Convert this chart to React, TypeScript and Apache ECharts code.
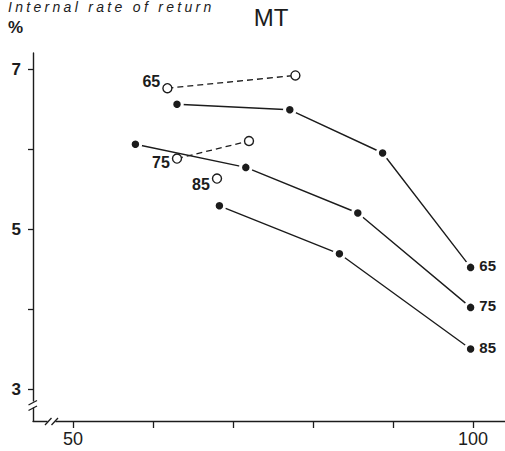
import React, { useEffect, useRef } from "react";
import * as echarts from "echarts";

// Axis ticks and labelled values
const xTicks = [50, 60, 70, 80, 90, 100];
const xTickLabels = [50, 100];
const yTicks = [3, 4, 5, 6, 7];
const yTickLabels = [3, 5, 7];

const seriesNames = ["65", "75", "85"];

// Filled markers joined by solid lines: [x, internal rate of return %]
const solid65 = [[63.0, 6.56], [77.1, 6.49], [88.7, 5.95], [99.7, 4.52]];
const solid75 = [[57.8, 6.06], [71.6, 5.77], [85.6, 5.2], [99.7, 4.02]];
const solid85 = [[68.3, 5.29], [83.3, 4.69], [99.7, 3.5]];

// Open markers joined by dashed lines
const open65 = [[61.8, 6.76], [77.8, 6.92]];
const open75 = [[63.0, 5.88], [72.0, 6.1]];
const open85 = [[68.0, 5.63]];

const titleText = "Internal rate of return";
const unitText = "%";
const panelText = "MT";

const INK = "#1c1c1c";
const FONT = "'Liberation Sans', Arial, Helvetica, sans-serif";

function solidSeries(name: string, data: number[][]) {
  return {
    name,
    type: "line",
    z: 3,
    data: data.map((v, i) =>
      i === data.length - 1
        ? {
            value: v,
            label: {
              show: true,
              position: "right",
              distance: 2,
              offset: [0, -2],
              formatter: "{a}",
              color: INK,
              fontFamily: FONT,
              fontWeight: "bold",
              fontSize: 15,
            },
          }
        : v
    ),
    symbol: "circle",
    symbolSize: 10.5,
    itemStyle: { color: INK, borderColor: "#ffffff", borderWidth: 3 },
    lineStyle: { color: INK, width: 1.4 },
    emphasis: { disabled: true },
  };
}

function openSeries(name: string, data: number[][], offset: number[]) {
  return {
    name,
    type: "line",
    z: 4,
    data: data.map((v, i) =>
      i === 0
        ? {
            value: v,
            label: {
              show: true,
              position: "left",
              distance: 2,
              offset,
              formatter: "{a}",
              color: INK,
              fontFamily: FONT,
              fontWeight: "bold",
              fontSize: 16,
            },
          }
        : v
    ),
    symbol: "circle",
    symbolSize: 9,
    itemStyle: { color: "#ffffff", borderColor: INK, borderWidth: 1.4 },
    lineStyle: { color: INK, width: 1.3, type: [6, 4] },
    emphasis: { disabled: true },
  };
}

export default function App() {
  const ref = useRef<HTMLDivElement>(null);

  useEffect(() => {
    if (!ref.current) return;
    const chart = echarts.init(ref.current, null, { renderer: "svg" });

    const axisLine = { show: true, onZero: false, lineStyle: { color: INK, width: 1.4 } };

    chart.setOption({
      animation: false,
      backgroundColor: "#ffffff",
      grid: { left: 33, top: 53, width: 472, height: 368, containLabel: false },
      xAxis: {
        type: "value",
        min: 45,
        max: 104,
        axisLine,
        axisTick: { show: true, length: 7, customValues: xTicks, lineStyle: { color: INK, width: 1.3 } },
        axisLabel: {
          customValues: xTickLabels,
          color: INK,
          fontFamily: FONT,
          fontSize: 18,
          margin: 9,
        },
        splitLine: { show: false },
      },
      yAxis: {
        type: "value",
        min: 2.6,
        max: 7.2,
        axisLine,
        axisTick: { show: true, length: 5, customValues: yTicks, lineStyle: { color: INK, width: 1.3 } },
        axisLabel: {
          customValues: yTickLabels,
          color: INK,
          fontFamily: FONT,
          fontWeight: "bold",
          fontSize: 17,
          margin: 12,
        },
        splitLine: { show: false },
      },
      series: [
        solidSeries(seriesNames[0], solid65),
        solidSeries(seriesNames[1], solid75),
        solidSeries(seriesNames[2], solid85),
        openSeries(seriesNames[0], open65, [0, -7]),
        openSeries(seriesNames[1], open75, [0, 4]),
        openSeries(seriesNames[2], open85, [0, 6]),
      ],
      graphic: [
        {
          type: "text",
          left: 8,
          top: 0,
          z: 10,
          style: {
            text: titleText,
            fill: INK,
            font: `italic 14px ${FONT}`,
          },
        },
        {
          type: "text",
          x: 15.5,
          y: 27,
          z: 10,
          style: {
            text: unitText,
            fill: INK,
            font: `bold 17px ${FONT}`,
            align: "center",
            verticalAlign: "middle",
          },
        },
        {
          type: "text",
          x: 271,
          y: 17,
          z: 10,
          style: {
            text: panelText,
            fill: INK,
            font: `24px ${FONT}`,
            align: "center",
            verticalAlign: "middle",
          },
        },
        // axis break on the vertical axis
        { type: "rect", z: 20, shape: { x: 29, y: 401.5, width: 9, height: 6 }, style: { fill: "#ffffff" } },
        { type: "line", z: 21, shape: { x1: 28.5, y1: 405, x2: 37, y2: 400.5 }, style: { stroke: INK, lineWidth: 1.3 } },
        { type: "line", z: 21, shape: { x1: 28.5, y1: 410.5, x2: 37, y2: 406 }, style: { stroke: INK, lineWidth: 1.3 } },
        // axis break on the horizontal axis
        { type: "rect", z: 20, shape: { x: 47.5, y: 418, width: 8, height: 7 }, style: { fill: "#ffffff" } },
        { type: "line", z: 21, shape: { x1: 45, y1: 425, x2: 51.5, y2: 418 }, style: { stroke: INK, lineWidth: 1.3 } },
        { type: "line", z: 21, shape: { x1: 51.5, y1: 425, x2: 58, y2: 418 }, style: { stroke: INK, lineWidth: 1.3 } },
      ],
    });

    // widen the tracking of the italic heading
    const spaceTitle = () => {
      const nodes = ref.current?.querySelectorAll("text") ?? [];
      nodes.forEach((n) => {
        if (n.textContent === titleText) n.setAttribute("letter-spacing", "3.3");
      });
    };
    chart.on("rendered", spaceTitle);
    spaceTitle();
    const t = window.setTimeout(spaceTitle, 50);

    return () => {
      window.clearTimeout(t);
      chart.dispose();
    };
  }, []);

  return (
    <div
      ref={ref}
      style={{ position: "fixed", left: 0, top: 0, width: 505, height: 451, background: "#ffffff" }}
    />
  );
}
